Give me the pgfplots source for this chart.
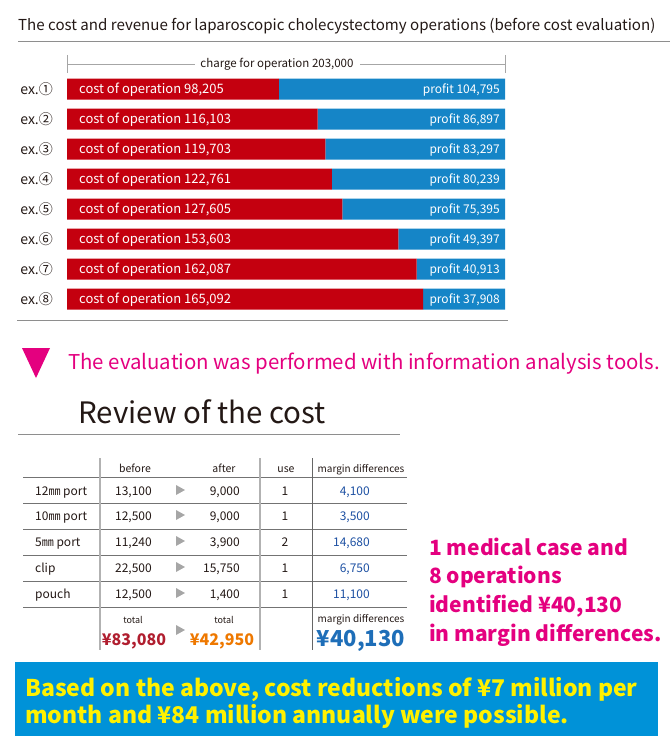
\documentclass[border=0pt]{standalone}
\usepackage{pgfplots}
\usepackage{pgfplotstable}
\pgfplotsset{compat=1.18}
\usepackage{fontspec}
\setmainfont{Noto Sans CJK JP}
\definecolor{costred}{HTML}{C4000F}
\definecolor{profblue}{HTML}{1585C7}
\definecolor{pinkc}{HTML}{E4007F}
\definecolor{tblue}{HTML}{1D50A2}
\definecolor{totred}{HTML}{B01E2F}
\definecolor{totorange}{HTML}{EE7800}
\definecolor{bigblue}{HTML}{1E6EB8}
\definecolor{boxblue}{HTML}{0092D8}
\definecolor{ylw}{HTML}{FFF100}
\definecolor{lgray}{HTML}{8E8E8E}
\definecolor{tgray}{HTML}{231815}
\newcommand{\fs}[1]{\fontsize{#1bp}{#1bp}\selectfont}
\pgfplotstableread{
y cost profit
1 98205 104795
2 116103 86897
3 119703 83297
4 122761 80239
5 127605 75395
6 153603 49397
7 162087 40913
8 165092 37908
}\opdata
\begin{document}
\begin{tikzpicture}
\begin{scope}[x=1bp,y=1bp]
\useasboundingbox (0,0) rectangle (670,-747);
% title
\node[anchor=base west,inner sep=0,text=tgray] at (18,-31) {\fs{15.1}The cost and revenue for laparoscopic cholecystectomy operations (before cost evaluation)};
\draw[lgray, line width=1bp] (18,-42) -- (670,-42);
% bracket
\draw[black!35, line width=0.8bp] (67,-55) -- (67,-73);
\draw[black!35, line width=0.8bp] (505,-55) -- (505,-73);
\draw[black!35, line width=0.8bp] (67,-64) -- (195,-64);
\draw[black!35, line width=0.8bp] (360,-64) -- (505,-64);
\node[anchor=base,inner sep=0,text=tgray] at (277,-68) {\fs{11.5}charge for operation 203,000};
\end{scope}
\begin{axis}[at={(67bp,-314bp)}, anchor=south west, scale only axis,
  width=438bp, height=240bp,
  xmin=0, xmax=203000, ymin=0.5, ymax=8.5, y dir=reverse,
  xbar stacked, bar width=21bp,
  axis line style={draw=none}, xtick=\empty, ytick={1,...,8},
  yticklabels={ex.①,ex.②,ex.③,ex.④,ex.⑤,ex.⑥,ex.⑦,ex.⑧},
  major tick length=0pt,
  yticklabel style={font=\fs{14}, text=tgray, inner sep=0pt, xshift=-14bp},
  clip=false]
\addplot[fill=costred, draw=none] table[x=cost, y=y]{\opdata};
\addplot[fill=profblue, draw=none] table[x=profit, y=y]{\opdata};
\end{axis}
\begin{scope}[x=1bp,y=1bp]
% bar labels
\foreach \k/\c/\p in {1/98{,}205/104{,}795, 2/116{,}103/86{,}897, 3/119{,}703/83{,}297,
  4/122{,}761/80{,}239, 5/127{,}605/75{,}395, 6/153{,}603/49{,}397,
  7/162{,}087/40{,}913, 8/165{,}092/37{,}908} {
  \node[anchor=base west,inner sep=0,text=white] at (79,-93.5-30*\k+30) {\fs{13}cost of operation \c};
  \node[anchor=base east,inner sep=0,text=white] at (500,-93.5-30*\k+30) {\fs{12}profit \p};
}
\draw[lgray, line width=1bp] (17,-320) -- (508,-320);
% pink arrow and text
\fill[pinkc] (22,-348) -- (50,-348) -- (36,-378) -- cycle;
\node[anchor=base west,inner sep=0,text=pinkc] at (68,-369) {\fs{20.4}The evaluation was performed with information analysis tools.};
\node[anchor=base west,inner sep=0,text=tgray] at (78,-423) {\fs{29.5}Review of the cost};
\draw[lgray, line width=1bp] (18,-434) -- (400,-434);
% table lines
\foreach \yy in {477,503,529,555,581,607} \draw[black!55, line width=0.8bp] (23,-\yy) -- (407,-\yy);
\foreach \xx in {100,260} \draw[black!30, line width=1.5bp] (\xx,-458) -- (\xx,-650);
\draw[black!60, line width=0.8bp] (312,-458) -- (312,-650);
% header
\node[anchor=base,inner sep=0,text=tgray] at (135,-472) {\fs{10.5}before};
\node[anchor=base,inner sep=0,text=tgray] at (224,-472) {\fs{10.5}after};
\node[anchor=base,inner sep=0,text=tgray] at (286,-472) {\fs{10.5}use};
\node[anchor=base,inner sep=0,text=tgray] at (361,-472) {\fs{10}margin differences};
% rows
\foreach \yb/\lab/\bef/\aft/\use/\mar in {495/12㎜ port/13{,}100/9{,}000/1/4{,}100,
  520/10㎜ port/12{,}500/9{,}000/1/3{,}500,
  546/5㎜ port/11{,}240/3{,}900/2/14{,}680,
  572/clip/22{,}500/15{,}750/1/6{,}750,
  598/pouch/12{,}500/1{,}400/1/11{,}100} {
  \node[anchor=base west,inner sep=0,text=tgray] at (35,-\yb) {\fs{12}\lab};
  \node[anchor=base east,inner sep=0,text=tgray] at (152,-\yb) {\fs{12}\bef};
  \fill[black!35] (176,-\yb+10) -- (176,-\yb) -- (185,-\yb+5) -- cycle;
  \node[anchor=base east,inner sep=0,text=tgray] at (240,-\yb) {\fs{12}\aft};
  \node[anchor=base,inner sep=0,text=tgray] at (285,-\yb) {\fs{12}\use};
  \node[anchor=base east,inner sep=0,text=tblue] at (370,-\yb) {\fs{12}\mar};
}
% totals
\node[anchor=base,inner sep=0,text=tgray] at (133,-623) {\fs{9}total};
\node[anchor=base,inner sep=0,text=tgray] at (224,-623) {\fs{9}total};
\node[anchor=base,inner sep=0,text=totred] at (134,-645) {\fs{16}\bfseries ¥83,080};
\fill[black!35] (176,-625) -- (176,-635) -- (185,-630) -- cycle;
\node[anchor=base,inner sep=0,text=totorange] at (222,-645) {\fs{16}\bfseries ¥42,950};
\node[anchor=base,inner sep=0,text=tgray] at (361,-622) {\fs{10}margin differences};
\node[anchor=base,inner sep=0,text=bigblue] at (361,-646) {\fs{22}\bfseries ¥40,130};
% pink bold block
\node[anchor=base west,inner sep=0,text=pinkc] at (429,-555) {\fs{21}\bfseries 1 medical case and};
\node[anchor=base west,inner sep=0,text=pinkc] at (429,-583) {\fs{21}\bfseries 8 operations};
\node[anchor=base west,inner sep=0,text=pinkc] at (429,-612) {\fs{21}\bfseries identified ¥40,130};
\node[anchor=base west,inner sep=0,text=pinkc] at (429,-641) {\fs{21}\bfseries in margin differences.};
% bottom box
\fill[boxblue] (15,-662) rectangle (658,-736);
\node[anchor=base west,inner sep=0,text=ylw] at (25,-696) {\fs{23}\bfseries Based on the above, cost reductions of ¥7 million per};
\node[anchor=base west,inner sep=0,text=ylw] at (25,-723) {\fs{23}\bfseries month and ¥84 million annually were possible.};
\end{scope}
\end{tikzpicture}
\end{document}
